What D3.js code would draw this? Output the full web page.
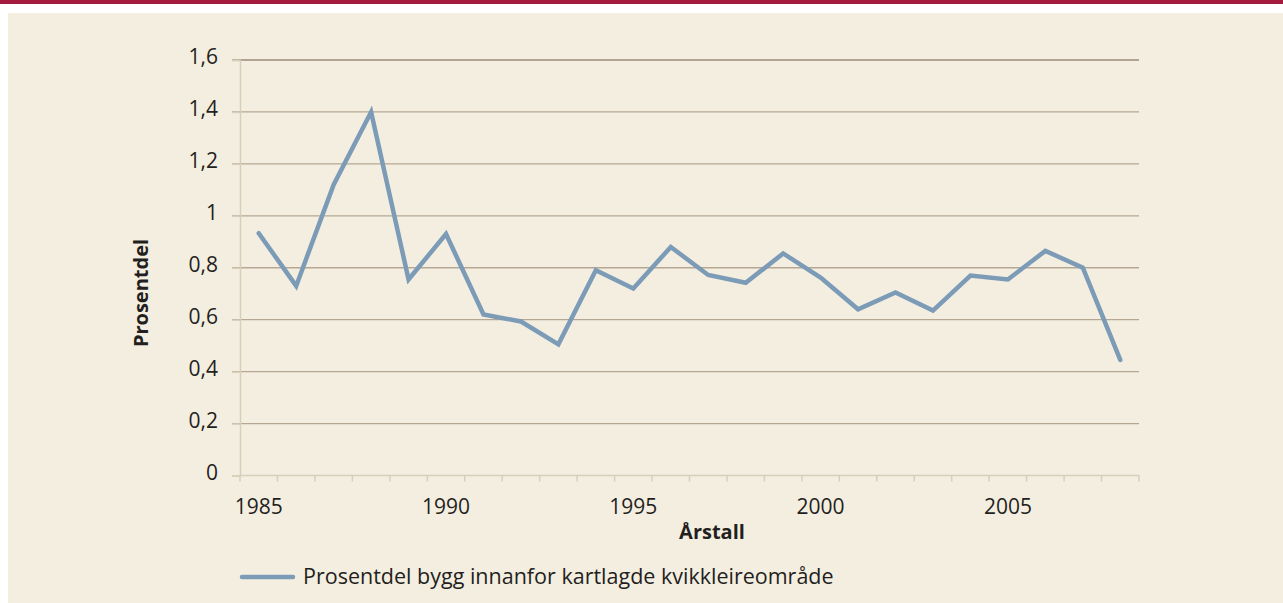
<!DOCTYPE html>
<html>
<head>
<meta charset="utf-8">
<script src="https://cdn.jsdelivr.net/npm/d3@7"></script>
<style>
  body { margin: 0; background: #fff; }
  text { font-family: "Open Sans", "Noto Sans", sans-serif; fill: #231f20; }
</style>
</head>
<body>
<svg id="chart" width="1283" height="603"></svg>
<script>
const years = d3.range(1985, 2009);
const values = [0.933, 0.73, 1.12, 1.40, 0.755, 0.93, 0.62, 0.593, 0.505,
  0.79, 0.72, 0.88, 0.772, 0.742, 0.855, 0.762, 0.64, 0.705, 0.635,
  0.77, 0.755, 0.865, 0.80, 0.445];
const yTicks = [0, 0.2, 0.4, 0.6, 0.8, 1, 1.2, 1.4, 1.6];
const xLabelYears = [1985, 1990, 1995, 2000, 2005];
const seriesName = "Prosentdel bygg innanfor kartlagde kvikkleireområde";

const svg = d3.select("#chart");
const plotLeft = 240, plotRight = 1139, plotTop = 60, plotBottom = 475.5;

// frame: red band on top, beige panel
svg.append("rect").attr("x", 0).attr("y", 0).attr("width", 1283).attr("height", 4).attr("fill", "#a51b3d");
svg.append("rect").attr("x", 8).attr("y", 13).attr("width", 1275).attr("height", 590).attr("fill", "#f4eee1");

const x = d3.scaleBand().domain(years).range([plotLeft, plotRight]);
const y = d3.scaleLinear().domain([0, 1.6]).range([plotBottom, plotTop]);

const fmt = d => d3.format(".1~f")(d).replace(".", ",");

// gridlines
svg.append("g")
  .selectAll("line")
  .data(yTicks.filter(d => d > 0))
  .join("line")
    .attr("x1", plotLeft - 8).attr("x2", plotRight)
    .attr("y1", d => y(d)).attr("y2", d => y(d))
    .attr("stroke", d => d === 1.6 ? "#9c8a78" : "#b5a793")
    .attr("stroke-width", 1.3);

// y axis
const yAxis = svg.append("g")
  .attr("transform", `translate(${plotLeft},0)`)
  .call(d3.axisLeft(y).tickValues(yTicks).tickFormat(fmt).tickSize(8).tickPadding(14));
yAxis.select(".domain").attr("stroke", "#d8cfbb").attr("stroke-width", 1.5);
yAxis.selectAll(".tick line").attr("stroke", "#d8cfbb").attr("stroke-width", 1.5);
yAxis.selectAll(".tick text")
  .attr("font-size", 21).attr("dy", "0.18em").attr("fill", "#231f20")
  .style("font-family", "'Open Sans', 'Noto Sans', sans-serif");

// x axis: ticks between categories
const xg = svg.append("g").attr("transform", `translate(0,${plotBottom})`);
xg.append("line").attr("x1", plotLeft).attr("x2", plotRight).attr("stroke", "#d8cfbb").attr("stroke-width", 1.5);
xg.selectAll("line.tk")
  .data(years.concat([2009]))
  .join("line")
    .attr("class", "tk")
    .attr("x1", d => d === 2009 ? plotRight : x(d))
    .attr("x2", d => d === 2009 ? plotRight : x(d))
    .attr("y1", 0).attr("y2", 6)
    .attr("stroke", "#d8cfbb").attr("stroke-width", 1.5);
xg.selectAll("text")
  .data(xLabelYears)
  .join("text")
    .attr("x", d => x(d) + x.bandwidth() / 2)
    .attr("y", 38)
    .attr("text-anchor", "middle")
    .attr("font-size", 21)
    .text(d => d);

// axis titles
svg.append("text")
  .attr("transform", "translate(148,293) rotate(-90)")
  .attr("text-anchor", "middle")
  .attr("font-size", 20).attr("font-weight", "bold")
  .text("Prosentdel");
svg.append("text")
  .attr("x", 712).attr("y", 539)
  .attr("text-anchor", "middle")
  .attr("font-size", 20).attr("font-weight", "bold")
  .text("Årstall");

// line
const line = d3.line()
  .x((d, i) => x(years[i]) + x.bandwidth() / 2)
  .y(d => y(d));
svg.append("path")
  .datum(values)
  .attr("d", line)
  .attr("fill", "none")
  .attr("stroke", "#7b9bb6")
  .attr("stroke-width", 4.5)
  .attr("stroke-linejoin", "miter")
  .attr("stroke-linecap", "round");

// legend
svg.append("line")
  .attr("x1", 242).attr("x2", 293).attr("y1", 577).attr("y2", 577)
  .attr("stroke", "#7b9bb6").attr("stroke-width", 4.5).attr("stroke-linecap", "round");
svg.append("text")
  .attr("x", 303).attr("y", 584)
  .attr("font-size", 21.5)
  .text(seriesName);
</script>
</body>
</html>
